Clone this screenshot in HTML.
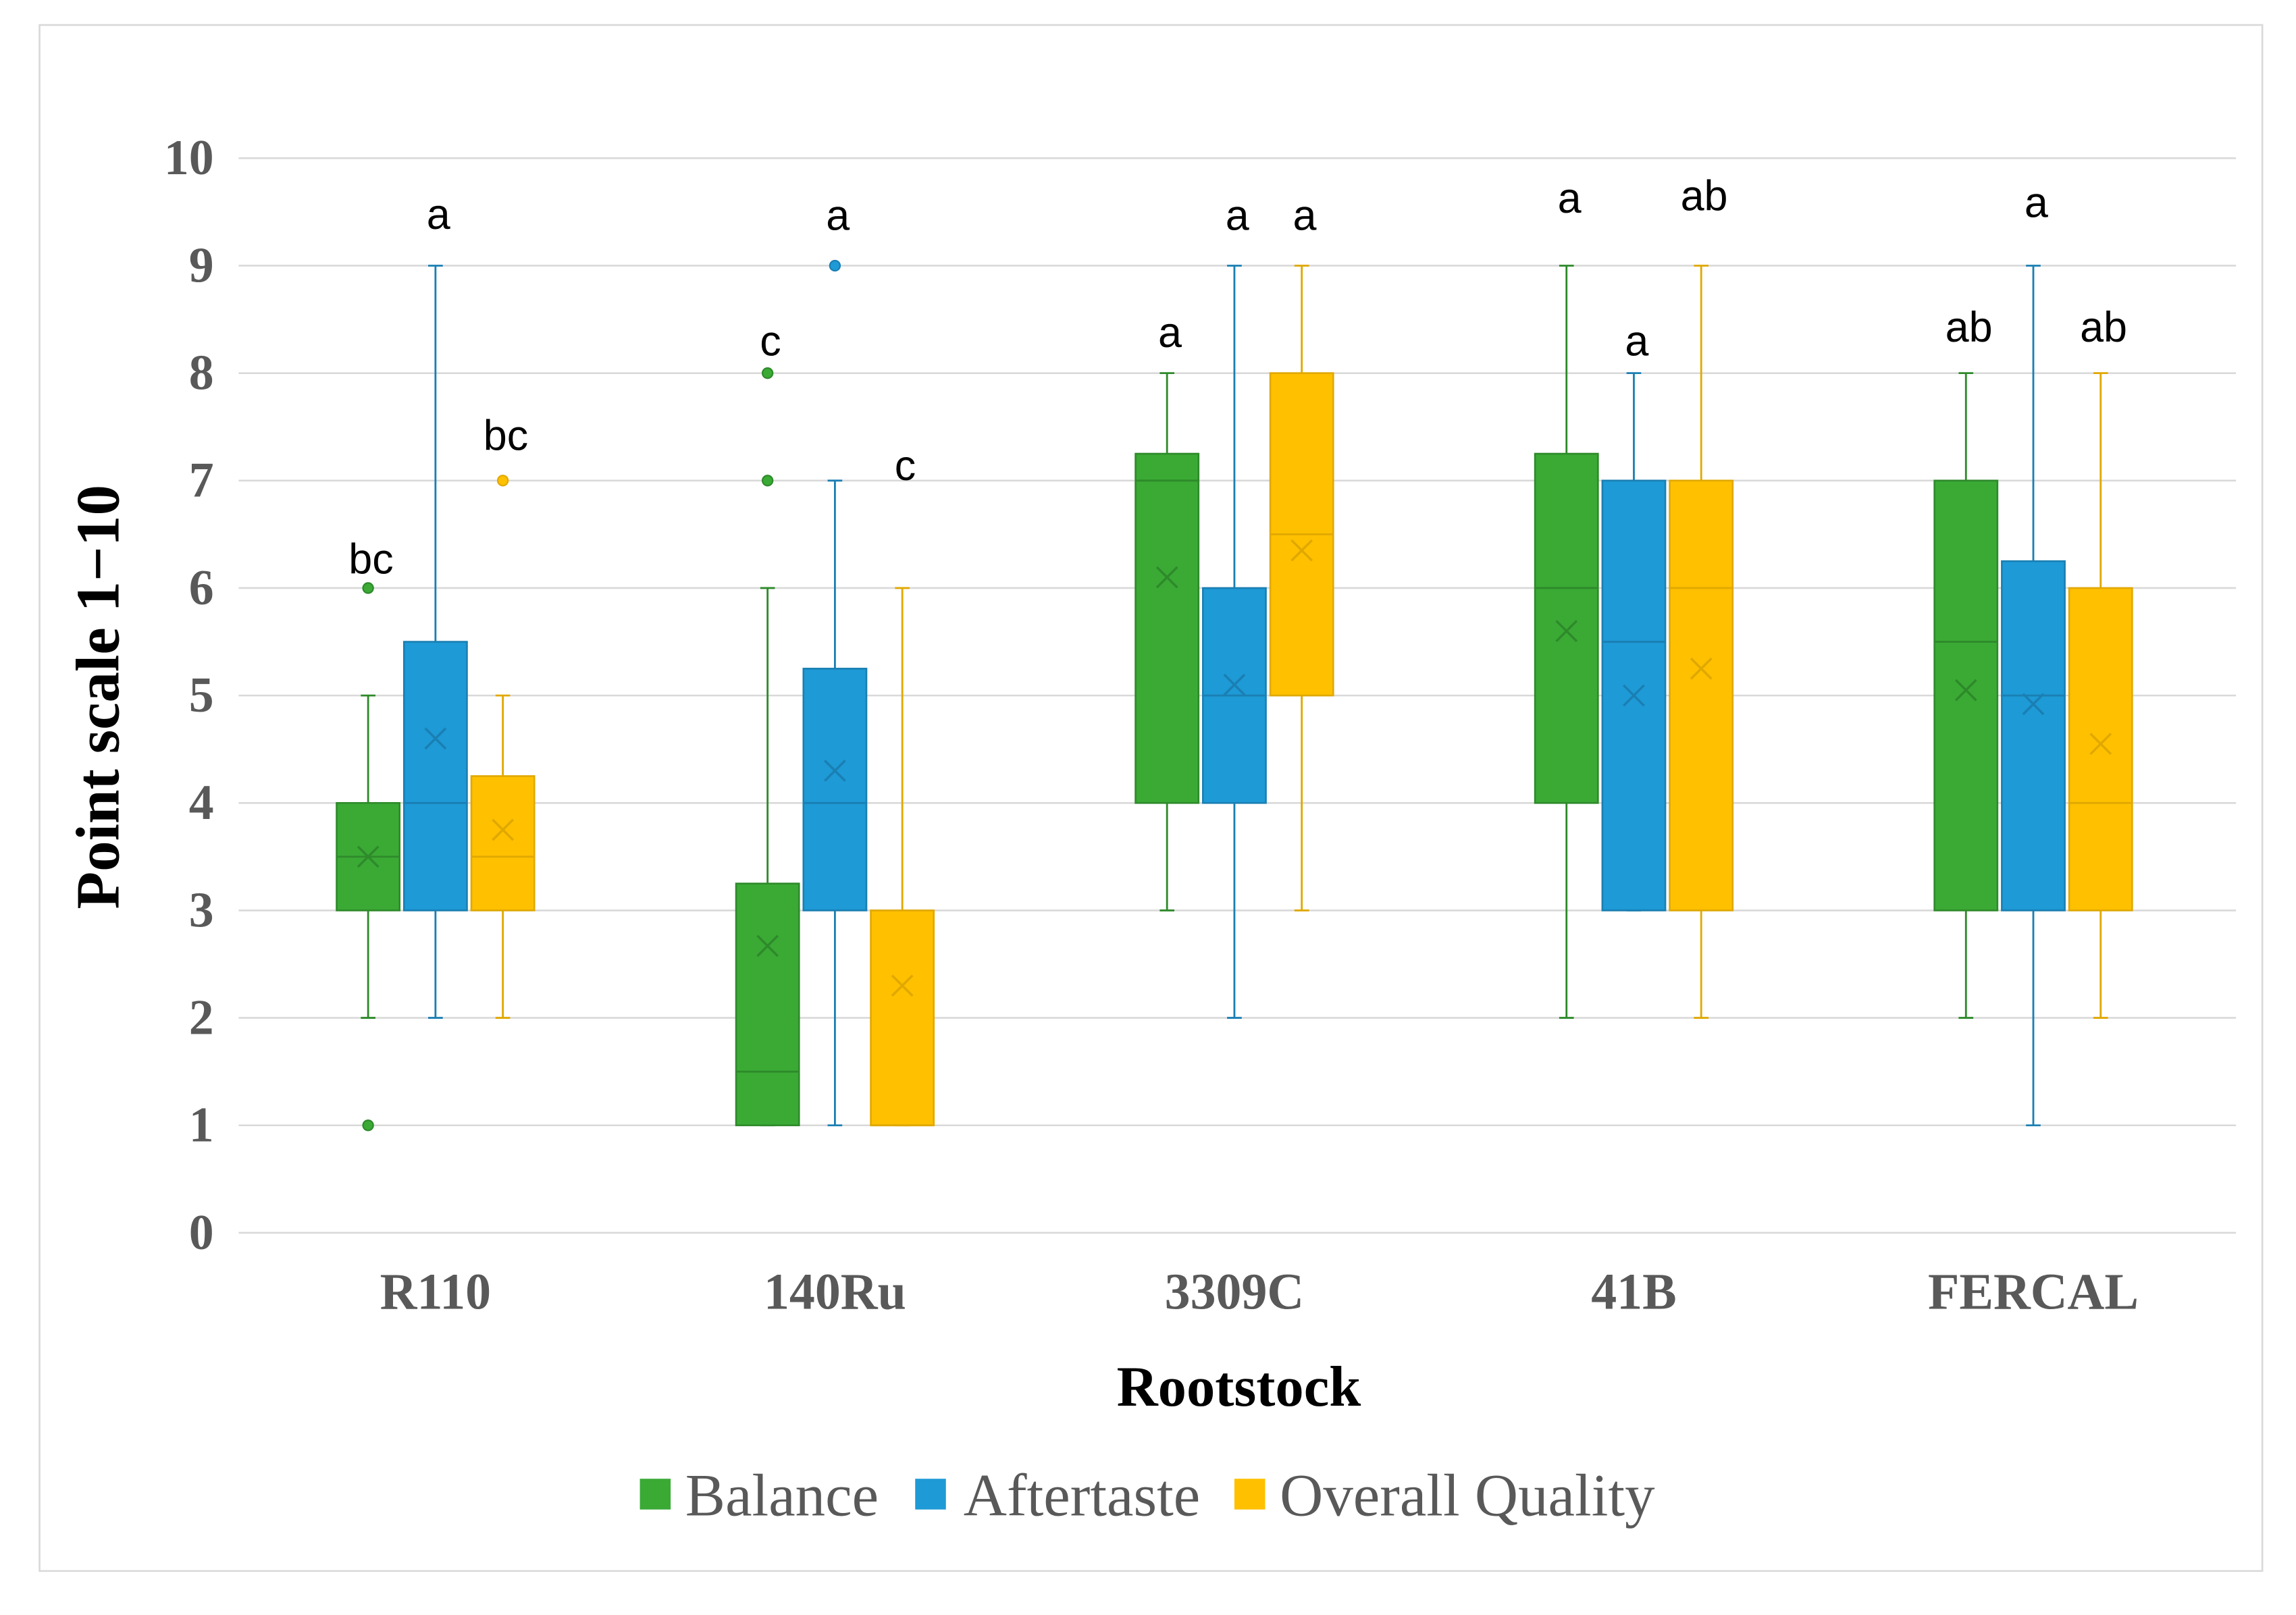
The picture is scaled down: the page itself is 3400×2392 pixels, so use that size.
<!DOCTYPE html>
<html><head><meta charset="utf-8"><style>
html,body{margin:0;padding:0;background:#fff;}
svg{display:block;}
</style></head><body>
<svg id="chart" width="3400" height="2392" viewBox="0 0 1568 1103" xmlns="http://www.w3.org/2000/svg">
<rect x="27" y="17" width="1518" height="1056" fill="#fff" stroke="#d9d9d9" stroke-width="1.2"/>
<g id="grid"></g>
<g id="marks"></g>
<text x="846" y="960" text-anchor="middle" font-family="Liberation Serif, serif" font-weight="bold" font-size="39" fill="#000">Rootstock</text>
<text transform="translate(81,476) rotate(-90)" text-anchor="middle" font-family="Liberation Serif, serif" font-weight="bold" font-size="42" fill="#000">Point scale 1−10</text>
<g font-family="Liberation Serif, serif" font-size="41" fill="#595959">
<rect x="437" y="1010" width="21" height="21" fill="#3aaa35"/>
<text x="468" y="1035">Balance</text>
<rect x="625" y="1010" width="21" height="21" fill="#1e9ad6"/>
<text x="658" y="1035">Aftertaste</text>
<rect x="843" y="1010" width="21" height="21" fill="#ffc000"/>
<text x="874" y="1035">Overall Quality</text>
</g>
</svg>
<script>
const categories = ["R110","140Ru","3309C","41B","FERCAL"];
const seriesNames = ["Balance","Aftertaste","Overall Quality"];
const yTicks = [0,1,2,3,4,5,6,7,8,9,10];
// per category: [Balance, Aftertaste, Overall]
const whiskerLow = [[2,2,2],[1,1,1],[3,2,3],[2,3,2],[2,1,2]];
const whiskerHigh = [[5,9,5],[6,7,6],[8,9,9],[9,8,9],[8,9,8]];
const q1 = [[3,3,3],[1,3,1],[4,4,5],[4,3,3],[3,3,3]];
const q3 = [[4,5.5,4.25],[3.25,5.25,3],[7.25,6,8],[7.25,7,7],[7,6.25,6]];
const medians = [[3.5,4,3.5],[1.5,4,1],[7,5,6.5],[6,5.5,6],[5.5,5,4]];
const means = [[3.5,4.6,3.75],[2.67,4.3,2.3],[6.1,5.1,6.35],[5.6,5,5.25],[5.05,4.92,4.55]];
const outliers = [[[6,1],[],[7]],[[7,8],[9],[]],[[],[],[]],[[],[],[]],[[],[],[]]];
const sigLetters = [["bc","a","bc"],["c","a","c"],["a","a","a"],["a","a","ab"],["ab","a","ab"]];
const sigLetterY = [[6.27,9.48,7.42],[8.3,9.47,7.14],[8.38,9.47,9.47],[9.63,8.3,9.65],[8.43,9.59,8.43]];

const fills = ["#3aaa35","#1e9ad6","#ffc000"];
const strokes = ["#2e8a2a","#1a7fb3","#e0a800"];
const NS = "http://www.w3.org/2000/svg";
const X0=161, X1=1525, Y0=842, Ytop=108;
const yScale = v => Y0 - (v/10)*(Y0-Ytop);
const band = (X1-X0)/categories.length;
const xCat = i => X0 + band*(i+0.5);
const offset = 46, bw = 43;
function mk(tag, attrs, parent){const e=document.createElementNS(NS,tag);for(const k in attrs)e.setAttribute(k,attrs[k]);parent.appendChild(e);return e;}
const grid=document.getElementById('grid'), marks=document.getElementById('marks');
yTicks.forEach(t=>{
  const l=mk('line',{x1:163,x2:1527,y1:yScale(t),y2:yScale(t),stroke:'#d9d9d9','stroke-width':1.2},grid);
  
  
  const tx=mk('text',{x:146,y:yScale(t)+11,'text-anchor':'end','font-family':'Liberation Serif, serif','font-weight':'bold','font-size':34,fill:'#595959'},grid);
  tx.textContent=t;
  
  
});
categories.forEach((c,i)=>{
  const tx=mk('text',{x:xCat(i),y:894,'text-anchor':'middle','font-family':'Liberation Serif, serif','font-weight':'bold','font-size':35,fill:'#595959'},grid);
  tx.textContent=c;
  
  
  for(let s=0;s<3;s++){
    const cx=xCat(i)+(s-1)*offset;
    const g=mk('g',{},marks);
    
    
    mk('line',{x1:cx,x2:cx,y1:yScale(whiskerLow[i][s]),y2:yScale(whiskerHigh[i][s]),stroke:strokes[s],'stroke-width':1.3},g);
    mk('line',{x1:cx-5,x2:cx+5,y1:yScale(whiskerLow[i][s]),y2:yScale(whiskerLow[i][s]),stroke:strokes[s],'stroke-width':1.3},g);
    mk('line',{x1:cx-5,x2:cx+5,y1:yScale(whiskerHigh[i][s]),y2:yScale(whiskerHigh[i][s]),stroke:strokes[s],'stroke-width':1.3},g);
    mk('rect',{x:cx-bw/2,y:yScale(q3[i][s]),width:bw,height:yScale(q1[i][s])-yScale(q3[i][s]),fill:fills[s],stroke:strokes[s],'stroke-width':1.2},g);
    mk('line',{x1:cx-bw/2,x2:cx+bw/2,y1:yScale(medians[i][s]),y2:yScale(medians[i][s]),stroke:strokes[s],'stroke-width':1.3},g);
    const my=yScale(means[i][s]);
    mk('path',{d:`M${cx-7},${my-7}L${cx+7},${my+7}M${cx-7},${my+7}L${cx+7},${my-7}`,stroke:strokes[s],'stroke-width':1.6,fill:'none'},g);
    outliers[i][s].forEach(o=>{
      const p=mk('circle',{cx:cx,cy:yScale(o),r:3.5,fill:fills[s],stroke:strokes[s],'stroke-width':1},g);
      
      
    });
    const lt=mk('text',{x:cx+2,y:yScale(sigLetterY[i][s])+10,'text-anchor':'middle','font-family':'Liberation Sans, sans-serif','font-size':29,fill:'#000'},marks);
    lt.textContent=sigLetters[i][s];
    
    
  }
});
</script>
</body></html>
